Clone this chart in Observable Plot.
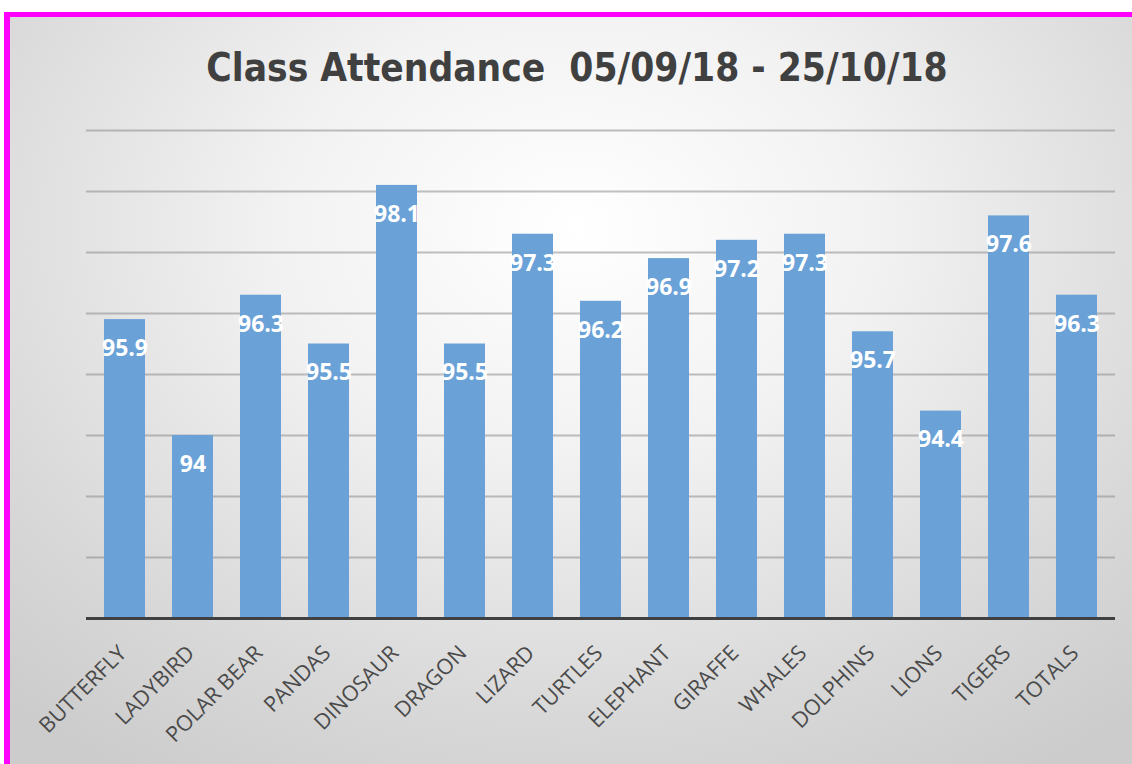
<!DOCTYPE html>
<html>
<head>
<meta charset="utf-8">
<script src="https://cdn.jsdelivr.net/npm/d3@7"></script>
<script src="https://cdn.jsdelivr.net/npm/@observablehq/plot@0.6"></script>
<style>
  html, body { margin: 0; padding: 0; background: #ffffff; width: 1132px; height: 764px; overflow: hidden; }
  #frame {
    position: absolute; left: 4px; top: 12px; width: 1140px; height: 760px;
    box-sizing: border-box;
    border-left: 6px solid #ff00ff; border-top: 5px solid #ff00ff;
    background: radial-gradient(ellipse 75% 85% at 50% 28%, #ffffff 0%, #f2f2f2 35%, #d9d9d9 75%, #cccccc 100%);
  }
  #title {
    position: absolute; left: 0; top: 28px; width: 1134px; text-align: center;
    font-family: "Liberation Sans Narrow", "DejaVu Sans Condensed", "Open Sans", sans-serif;
    font-weight: bold; font-size: 38.5px; color: #404040; white-space: pre;
  }
  #chart { position: absolute; left: 0; top: 83px; }
</style>
</head>
<body>
<div id="frame">
  <div id="title">Class Attendance  05/09/18 - 25/10/18</div>
  <div id="chart"></div>
</div>
<script>
const classes = ["BUTTERFLY", "LADYBIRD", "POLAR BEAR", "PANDAS", "DINOSAUR", "DRAGON", "LIZARD", "TURTLES", "ELEPHANT", "GIRAFFE", "WHALES", "DOLPHINS", "LIONS", "TIGERS", "TOTALS"];
const attendance = [95.9, 94, 96.3, 95.5, 98.1, 95.5, 97.3, 96.2, 96.9, 97.2, 97.3, 95.7, 94.4, 97.6, 96.3];
const gridTicks = [92, 93, 94, 95, 96, 97, 98, 99];
const yMin = 91, yMax = 99;

const data = classes.map((c, i) => ({cls: c, value: attendance[i]}));

const chart = Plot.plot({
  width: 1122,
  height: 664,
  marginLeft: 76,
  marginRight: 17,
  marginTop: 30,
  marginBottom: 146,
  style: {background: "transparent", overflow: "visible"},
  x: {domain: classes, paddingInner: 0.4, paddingOuter: 0.2, label: null},
  y: {domain: [yMin, yMax], label: null},
  marks: [
    Plot.gridY(gridTicks, {stroke: "#8c8c8c", strokeOpacity: 0.55, strokeWidth: 2}),
    Plot.barY(data, {x: "cls", y1: yMin, y2: "value", fill: "#6aa2d8"}),
    Plot.ruleY([yMin], {stroke: "#404040", strokeWidth: 3}),
    Plot.text(data, {x: "cls", y: "value", text: d => String(d.value), dy: 29, fill: "#ffffff",
      fontWeight: "bold", fontSize: 23, fontFamily: "Open Sans, sans-serif"}),
    Plot.axisX({tickSize: 0, tickPadding: 10, tickRotate: -45, fontSize: 21.5, fill: "#4a4a4a",
      fontFamily: "Open Sans, sans-serif", label: null, dx: -2, dy: 21}),
    Plot.axisY({ticks: [], label: null, tickSize: 0})
  ]
});
document.getElementById("chart").appendChild(chart);
</script>
</body>
</html>
